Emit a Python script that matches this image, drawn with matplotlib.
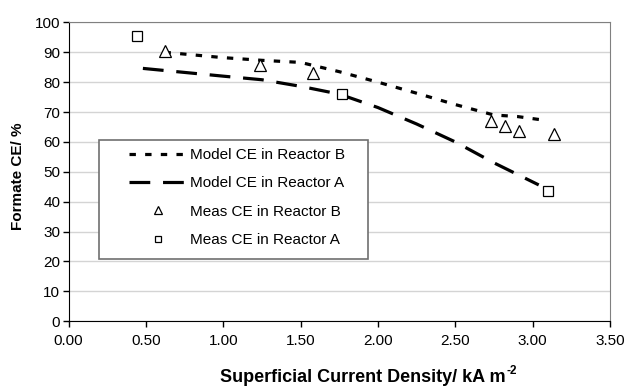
import matplotlib.pyplot as plt
from matplotlib.legend_handler import HandlerLine2D
from matplotlib.patches import Rectangle

plt.rcParams['font.family'] = ['Liberation Sans', 'DejaVu Sans']

# model curves
model_b_x = [0.62, 1.00, 1.25, 1.50, 1.75, 2.00, 2.25, 2.50, 2.75, 2.90, 3.07]
model_b_y = [90.0, 88.2, 87.3, 86.6, 83.5, 80.0, 76.3, 72.5, 69.0, 68.5, 67.3]
model_a_x = [0.48, 1.00, 1.25, 1.50, 1.75, 2.00, 2.25, 2.50, 2.75, 3.04]
model_a_y = [84.6, 82.0, 80.8, 78.6, 76.0, 71.5, 66.0, 60.0, 53.0, 45.6]

# measurements
meas_b_x = [0.62, 1.24, 1.58, 2.73, 2.82, 2.915, 3.14]
meas_b_y = [90.5, 85.8, 83.0, 67.0, 65.2, 63.6, 62.6]
meas_a_x = [0.44, 1.77, 3.10]
meas_a_y = [95.3, 75.9, 43.5]

xticks = [0.0, 0.5, 1.0, 1.5, 2.0, 2.5, 3.0, 3.5]
yticks = list(range(0, 101, 10))


class PaddedHandler(HandlerLine2D):
    # leave some empty room left of the legend handle
    def __init__(self, pad, **kw):
        super().__init__(**kw)
        self.pad = pad

    def create_artists(self, legend, orig_handle, xdescent, ydescent,
                       width, height, fontsize, trans):
        return super().create_artists(legend, orig_handle, xdescent - self.pad,
                                      ydescent, width - self.pad, height,
                                      fontsize, trans)


fig = plt.figure(figsize=(6.3, 3.86), dpi=100)
ax = fig.add_axes([0.109, 0.168, 0.859, 0.774])

l1, = ax.plot(model_b_x, model_b_y, color='black', lw=2.3,
              linestyle=(0, (2.0, 2.9)), label='Model CE in Reactor B', zorder=3)
l2, = ax.plot(model_a_x, model_a_y, color='black', lw=2.3,
              linestyle=(0, (6.5, 4.0)), label='Model CE in Reactor A', zorder=3)
l3, = ax.plot(meas_b_x, meas_b_y, linestyle='none', marker='^', ms=8.5,
              mfc='white', mec='black', mew=0.9, label='Meas CE in Reactor B',
              zorder=4)
l4, = ax.plot(meas_a_x, meas_a_y, linestyle='none', marker='s', ms=7.5,
              mfc='white', mec='black', mew=0.9, label='Meas CE in Reactor A',
              zorder=4)

ax.set_xlim(0, 3.5)
ax.set_ylim(0, 100)
ax.set_xticks(xticks)
ax.set_xticklabels([f'{t:.2f}' for t in xticks])
ax.set_yticks(yticks)
ax.tick_params(direction='out', length=4.5, width=1, labelsize=11,
               colors='black')
ax.tick_params(axis='x', pad=5)
ax.tick_params(axis='y', pad=1.5)
ax.yaxis.grid(True, color='#d4d4d4', lw=1)
ax.set_axisbelow(True)

for side in ['top', 'right']:
    ax.spines[side].set_color('#808080')
for side in ['left', 'bottom']:
    ax.spines[side].set_color('black')

# axis titles
fig.text(18 / 630, 1 - 176 / 386, 'Formate CE/ %', rotation=90, fontsize=11,
         fontweight='bold', ha='center', va='center')
xl = fig.text(220 / 630, 4 / 386, 'Superficial Current Density/ kA m',
              fontsize=13, fontweight='bold', ha='left', va='baseline')
fig.canvas.draw()
bb = xl.get_window_extent()
fig.text(bb.x1 / 630 + 0.002, 4 / 386 + 0.02, '-2', fontsize=8.5,
         fontweight='bold', ha='left', va='baseline')

# legend box (wider on the right than matplotlib's own frame)
box_l, box_r = (99 - 68.5) / 541.5, (368 - 68.5) / 541.5
box_t, box_b = (321 - 140) / 299, (321 - 259) / 299
ax.add_patch(Rectangle((box_l, box_b), box_r - box_l, box_t - box_b,
                       transform=ax.transAxes, facecolor='white',
                       edgecolor='#707070', lw=1.2, zorder=5))

hm = {l1: PaddedHandler(16), l2: PaddedHandler(16),
      l3: PaddedHandler(16), l4: PaddedHandler(16)}
leg = ax.legend(handles=[l1, l2, l3, l4], handler_map=hm, loc='upper left',
                bbox_to_anchor=(box_l, box_t), fontsize=11, frameon=False,
                markerscale=0.62, handlelength=5.3, handletextpad=0.12,
                labelspacing=0.94, borderpad=0.5, borderaxespad=0)
leg.set_zorder(6)

fig.savefig('out.png', dpi=100)
